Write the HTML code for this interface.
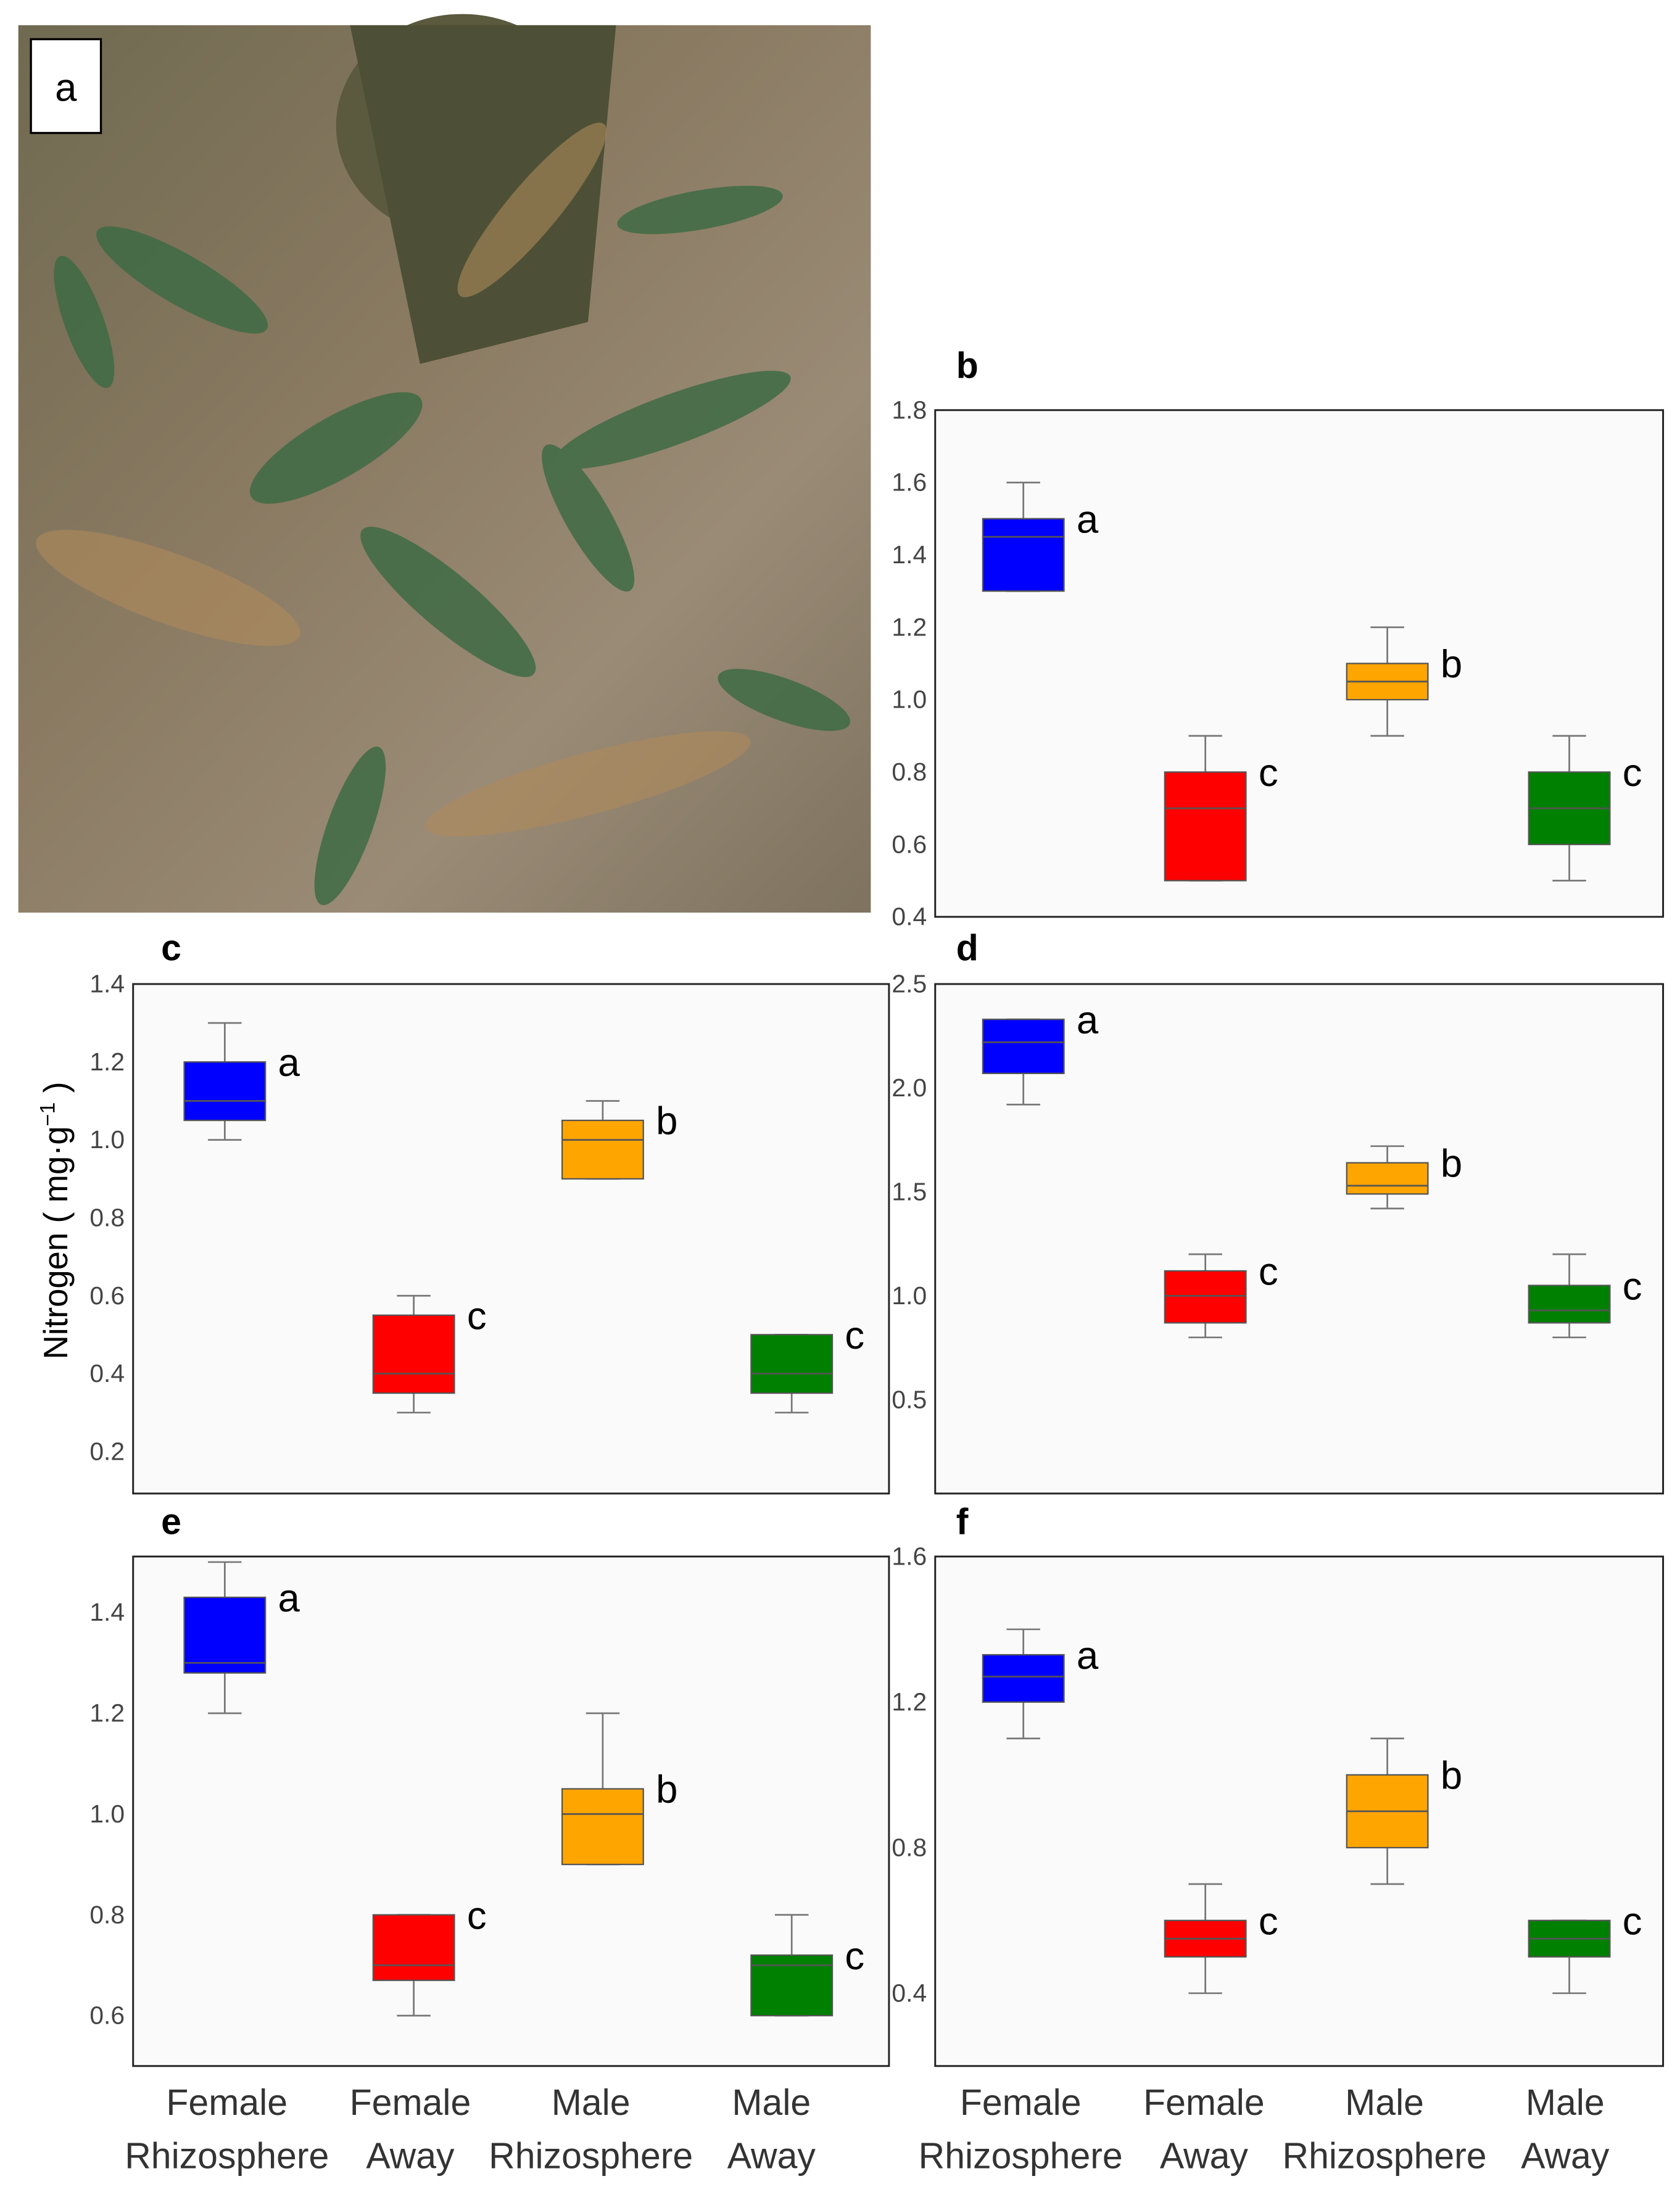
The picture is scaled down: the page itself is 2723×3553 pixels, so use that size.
<!DOCTYPE html>
<html><head><meta charset="utf-8"><style>
html,body{margin:0;padding:0;background:#fff;}
svg{display:block;}
text{font-family:"Liberation Sans",sans-serif;}
</style></head><body>
<svg id="fig" width="2723" height="3553" viewBox="0 0 1200 1566" xmlns="http://www.w3.org/2000/svg">
<defs>
<linearGradient id="pg" x1="0" y1="0" x2="1" y2="1">
<stop offset="0" stop-color="#6f6a50"/><stop offset="0.4" stop-color="#8a7a62"/><stop offset="0.7" stop-color="#9a8b76"/><stop offset="1" stop-color="#7e735f"/>
</linearGradient>
</defs>
<g>
<rect x="13" y="18" width="609" height="634" fill="url(#pg)"/>
<ellipse cx="330" cy="90" rx="90" ry="80" fill="#5b5a3e"/>
<polygon points="250,18 440,18 420,230 300,260" fill="#4d5036"/>
<g fill="#3f6b45" opacity="0.85">
<ellipse cx="240" cy="320" rx="70" ry="22" transform="rotate(-30 240 320)"/>
<ellipse cx="320" cy="430" rx="80" ry="20" transform="rotate(40 320 430)"/>
<ellipse cx="480" cy="300" rx="90" ry="18" transform="rotate(-20 480 300)"/>
<ellipse cx="130" cy="200" rx="70" ry="18" transform="rotate(30 130 200)"/>
<ellipse cx="420" cy="370" rx="60" ry="16" transform="rotate(60 420 370)"/>
<ellipse cx="250" cy="590" rx="60" ry="16" transform="rotate(-70 250 590)"/>
<ellipse cx="560" cy="500" rx="50" ry="15" transform="rotate(20 560 500)"/>
<ellipse cx="500" cy="150" rx="60" ry="14" transform="rotate(-10 500 150)"/>
<ellipse cx="60" cy="230" rx="50" ry="14" transform="rotate(70 60 230)"/>
</g>
<g fill="#b08a5a" opacity="0.6">
<ellipse cx="380" cy="150" rx="80" ry="18" transform="rotate(-50 380 150)"/>
<ellipse cx="120" cy="420" rx="100" ry="25" transform="rotate(20 120 420)"/>
<ellipse cx="420" cy="560" rx="120" ry="22" transform="rotate(-15 420 560)"/>
</g>
<rect x="22" y="28" width="50" height="67" fill="#fff" stroke="#000" stroke-width="1.5"/>
<text x="47" y="72" font-size="28" text-anchor="middle">a</text>
</g>
<text x="48" y="872" font-size="24" text-anchor="middle" transform="rotate(-90 48 872)">Nitrogen ( mg·g<tspan dy="-9" font-size="15">−1</tspan><tspan dy="9"> )</tspan></text>
<g id="charts"></g>
<g font-size="26" fill="#333" text-anchor="middle">
<text x="162" y="1511">Female</text><text x="162" y="1549">Rhizosphere</text>
<text x="293" y="1511">Female</text><text x="293" y="1549">Away</text>
<text x="422" y="1511">Male</text><text x="422" y="1549">Rhizosphere</text>
<text x="551" y="1511">Male</text><text x="551" y="1549">Away</text>
</g>
<g font-size="26" fill="#333" text-anchor="middle">
<text x="729" y="1511">Female</text><text x="729" y="1549">Rhizosphere</text>
<text x="860" y="1511">Female</text><text x="860" y="1549">Away</text>
<text x="989" y="1511">Male</text><text x="989" y="1549">Rhizosphere</text>
<text x="1118" y="1511">Male</text><text x="1118" y="1549">Away</text>
</g>
</svg>
<script>
const categories = ["Female Rhizosphere","Female Away","Male Rhizosphere","Male Away"];
const colors = ["#0000ff","#ff0000","#ffa500","#008000"];
const sigLetters = ["a","c","b","c"];
// [whiskerLow, q1, median, q3, whiskerHigh] per category
const bValues = [[1.3,1.3,1.45,1.5,1.6],[0.5,0.5,0.7,0.8,0.9],[0.9,1.0,1.05,1.1,1.2],[0.5,0.6,0.7,0.8,0.9]];
const cValues = [[1.0,1.05,1.1,1.2,1.3],[0.3,0.35,0.4,0.55,0.6],[0.9,0.9,1.0,1.05,1.1],[0.3,0.35,0.4,0.5,0.5]];
const dValues = [[1.92,2.07,2.22,2.33,2.33],[0.8,0.87,1.0,1.12,1.2],[1.42,1.49,1.53,1.64,1.72],[0.8,0.87,0.93,1.05,1.2]];
const eValues = [[1.2,1.28,1.3,1.43,1.5],[0.6,0.67,0.7,0.8,0.8],[0.9,0.9,1.0,1.05,1.2],[0.6,0.6,0.7,0.72,0.8]];
const fValues = [[1.1,1.2,1.27,1.33,1.4],[0.4,0.5,0.55,0.6,0.7],[0.7,0.8,0.9,1.0,1.1],[0.4,0.5,0.55,0.6,0.6]];
const bTicks = ["0.4","0.6","0.8","1.0","1.2","1.4","1.6","1.8"];
const cTicks = ["0.2","0.4","0.6","0.8","1.0","1.2","1.4"];
const dTicks = ["0.5","1.0","1.5","2.0","2.5"];
const eTicks = ["0.6","0.8","1.0","1.2","1.4"];
const fTicks = ["0.4","0.8","1.2","1.6"];
const panels = [
 {id:"b",vals:bValues,ticks:bTicks,x0:668,x1:1188,y0:293,y1:655,ymin:0.4,ymax:1.8,ly:270},
 {id:"c",vals:cValues,ticks:cTicks,x0:95,x1:635,y0:703,y1:1067,ymin:0.0923,ymax:1.4,ly:686},
 {id:"d",vals:dValues,ticks:dTicks,x0:668,x1:1188,y0:703,y1:1067,ymin:0.049,ymax:2.5,ly:686},
 {id:"e",vals:eValues,ticks:eTicks,x0:95,x1:635,y0:1112,y1:1476,ymin:0.5,ymax:1.511,ly:1096},
 {id:"f",vals:fValues,ticks:fTicks,x0:668,x1:1188,y0:1112,y1:1476,ymin:0.2,ymax:1.6,ly:1096}
];
const NS="http://www.w3.org/2000/svg";
const root=document.getElementById("charts");
function mk(tag,attrs,parent){const e=document.createElementNS(NS,tag);for(const k in attrs)e.setAttribute(k,attrs[k]);parent.appendChild(e);return e;}
panels.forEach(p=>{
 const g=mk("g",{},root);
 
 
 const ys=v=>p.y1-(v-p.ymin)/(p.ymax-p.ymin)*(p.y1-p.y0);
 const band=(p.x1-p.x0)/4;
 const xc=i=>p.x0+band*(i+0.5)-2;
 const fr=mk("rect",{x:p.x0,y:p.y0,width:p.x1-p.x0,height:p.y1-p.y0,fill:"#fafafa",stroke:"#222","stroke-width":1.3},g);
 
 
 const lbl=mk("text",{x:p.x0+(p.id==="b"||p.id==="d"||p.id==="f"?15:20),y:p.ly,"font-size":26,"font-weight":"bold"},g);
 lbl.textContent=p.id;
 
 
 p.ticks.forEach(t=>{
  const tx=mk("text",{x:p.x0-6,y:ys(parseFloat(t))+6,"font-size":18,fill:"#444","text-anchor":"end"},g);
  tx.textContent=t;
  
  
 });
 const w=58;
 p.vals.forEach((v,i)=>{
  const bg=mk("g",{},g);
  
  
  const x=xc(i);
  mk("line",{x1:x,x2:x,y1:ys(v[0]),y2:ys(v[4]),stroke:"#777","stroke-width":1.2},bg);
  mk("line",{x1:x-12,x2:x+12,y1:ys(v[0]),y2:ys(v[0]),stroke:"#777","stroke-width":1.2},bg);
  mk("line",{x1:x-12,x2:x+12,y1:ys(v[4]),y2:ys(v[4]),stroke:"#777","stroke-width":1.2},bg);
  mk("rect",{x:x-w/2,y:ys(v[3]),width:w,height:ys(v[1])-ys(v[3]),fill:colors[i],stroke:"#555","stroke-width":1},bg);
  mk("line",{x1:x-w/2,x2:x+w/2,y1:ys(v[2]),y2:ys(v[2]),stroke:"#555","stroke-width":1.2},bg);
  const s=mk("text",{x:x+w/2+9,y:ys(v[3])+10,"font-size":28},bg);
  s.textContent=sigLetters[i];
  
  
 });
});
</script>
</body></html>
